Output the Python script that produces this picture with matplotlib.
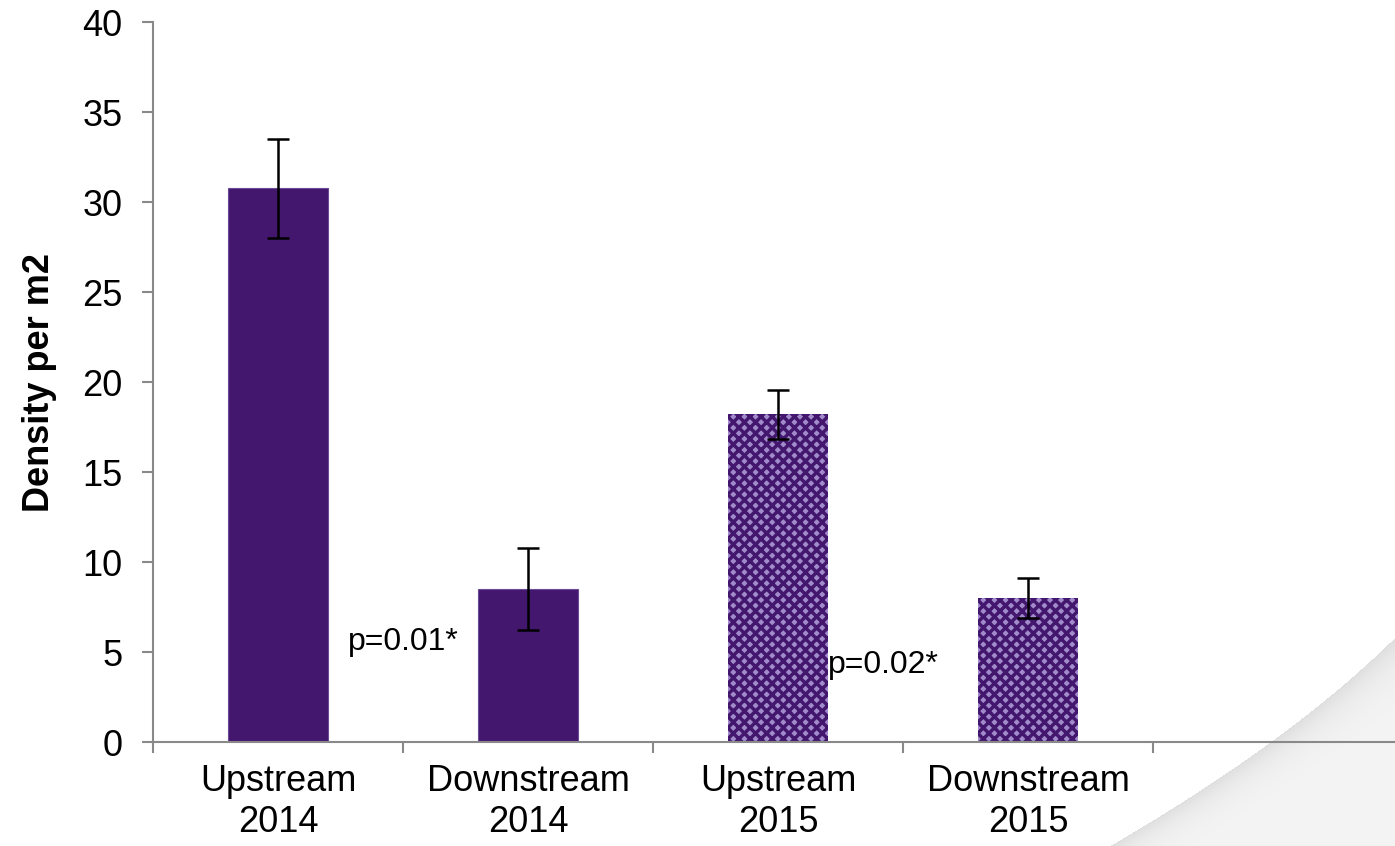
import numpy as np
import matplotlib
matplotlib.use("Agg")
import matplotlib.pyplot as plt

plt.rcParams['font.family'] = ['Liberation Sans', 'DejaVu Sans']
plt.rcParams['hatch.linewidth'] = 2.5

categories = ["Upstream\n2014", "Downstream\n2014", "Upstream\n2015", "Downstream\n2015"]
density = [30.75, 8.5, 18.2, 8.0]
errors = [2.75, 2.3, 1.35, 1.1]
p_labels = ["p=0.01*", "p=0.02*"]
p_x = [1.0, 2.92]
p_y = [5.55, 4.3]

W, H = 1395, 846
fig = plt.figure(figsize=(W / 100, H / 100), dpi=100)

# soft page-curl shading in the lower right corner
bg = fig.add_axes([0, 0, 1, 1], zorder=0)
bg.set_axis_off()
yy, xx = np.mgrid[0:H, 0:W].astype(float)
dy = yy - 742.0
xc = 1270.0 - 1.37 * dy - 0.0017 * dy ** 2
d = xx - xc
img = np.ones((H, W))
inside = (d > 0) & (yy > 550)
img[inside] = 0.955 - 0.085 * np.exp(-d[inside] / 28.0)
bg.imshow(img, cmap="gray", vmin=0, vmax=1, extent=(0, W, H, 0), aspect="auto",
          interpolation="bilinear")
bg.set_xlim(0, W)
bg.set_ylim(H, 0)

left = 153 / W
bottom = 1 - 742 / H
width = 1250 / W
height = (742 - 22) / H
ax = fig.add_axes([left, bottom, width, height], zorder=1)
ax.set_facecolor("none")

x = np.arange(len(categories)) + 0.5
solid = "#43176e"
face = [solid, solid, "#a18bcb", "#a18bcb"]
hatches = [None, None, "xxx", "xxx"]
for xi, h, e, fc, ht in zip(x, density, errors, face, hatches):
    if ht is None:
        ax.bar(xi, h, width=0.4, color=fc, edgecolor="#6b4a95", linewidth=0.8, zorder=2)
    else:
        ax.bar(xi, h, width=0.4, facecolor=fc, edgecolor=solid, hatch=ht, linewidth=0, zorder=2)
    ax.errorbar(xi, h, yerr=e, fmt="none", ecolor="black", elinewidth=1.8,
                capsize=8, capthick=1.8, zorder=3)

for t, px, py in zip(p_labels, p_x, p_y):
    ax.text(px, py, t, ha="center", va="center", fontsize=23, zorder=4)

ax.set_xlim(0, 5)
ax.set_ylim(0, 40)
ax.set_yticks(np.arange(0, 41, 5))
ax.set_xticks(np.arange(0, 6, 1))
ax.set_xticklabels([])
ax.set_xticks(x, minor=True)
ax.set_xticklabels(categories, minor=True, fontsize=26)
ax.tick_params(axis="x", which="minor", length=0, pad=16)
ax.tick_params(axis="x", which="major", length=8, width=1.5, color="#898989", direction="out")
ax.tick_params(axis="y", length=8, width=1.5, color="#898989", labelsize=26, pad=14)

for s in ["top", "right"]:
    ax.spines[s].set_visible(False)
for s in ["left", "bottom"]:
    ax.spines[s].set_color("#898989")
    ax.spines[s].set_linewidth(1.5)

ax.set_ylabel("Density per m2", fontsize=26, fontweight="bold", labelpad=18)

fig.savefig("out.png", dpi=100)
